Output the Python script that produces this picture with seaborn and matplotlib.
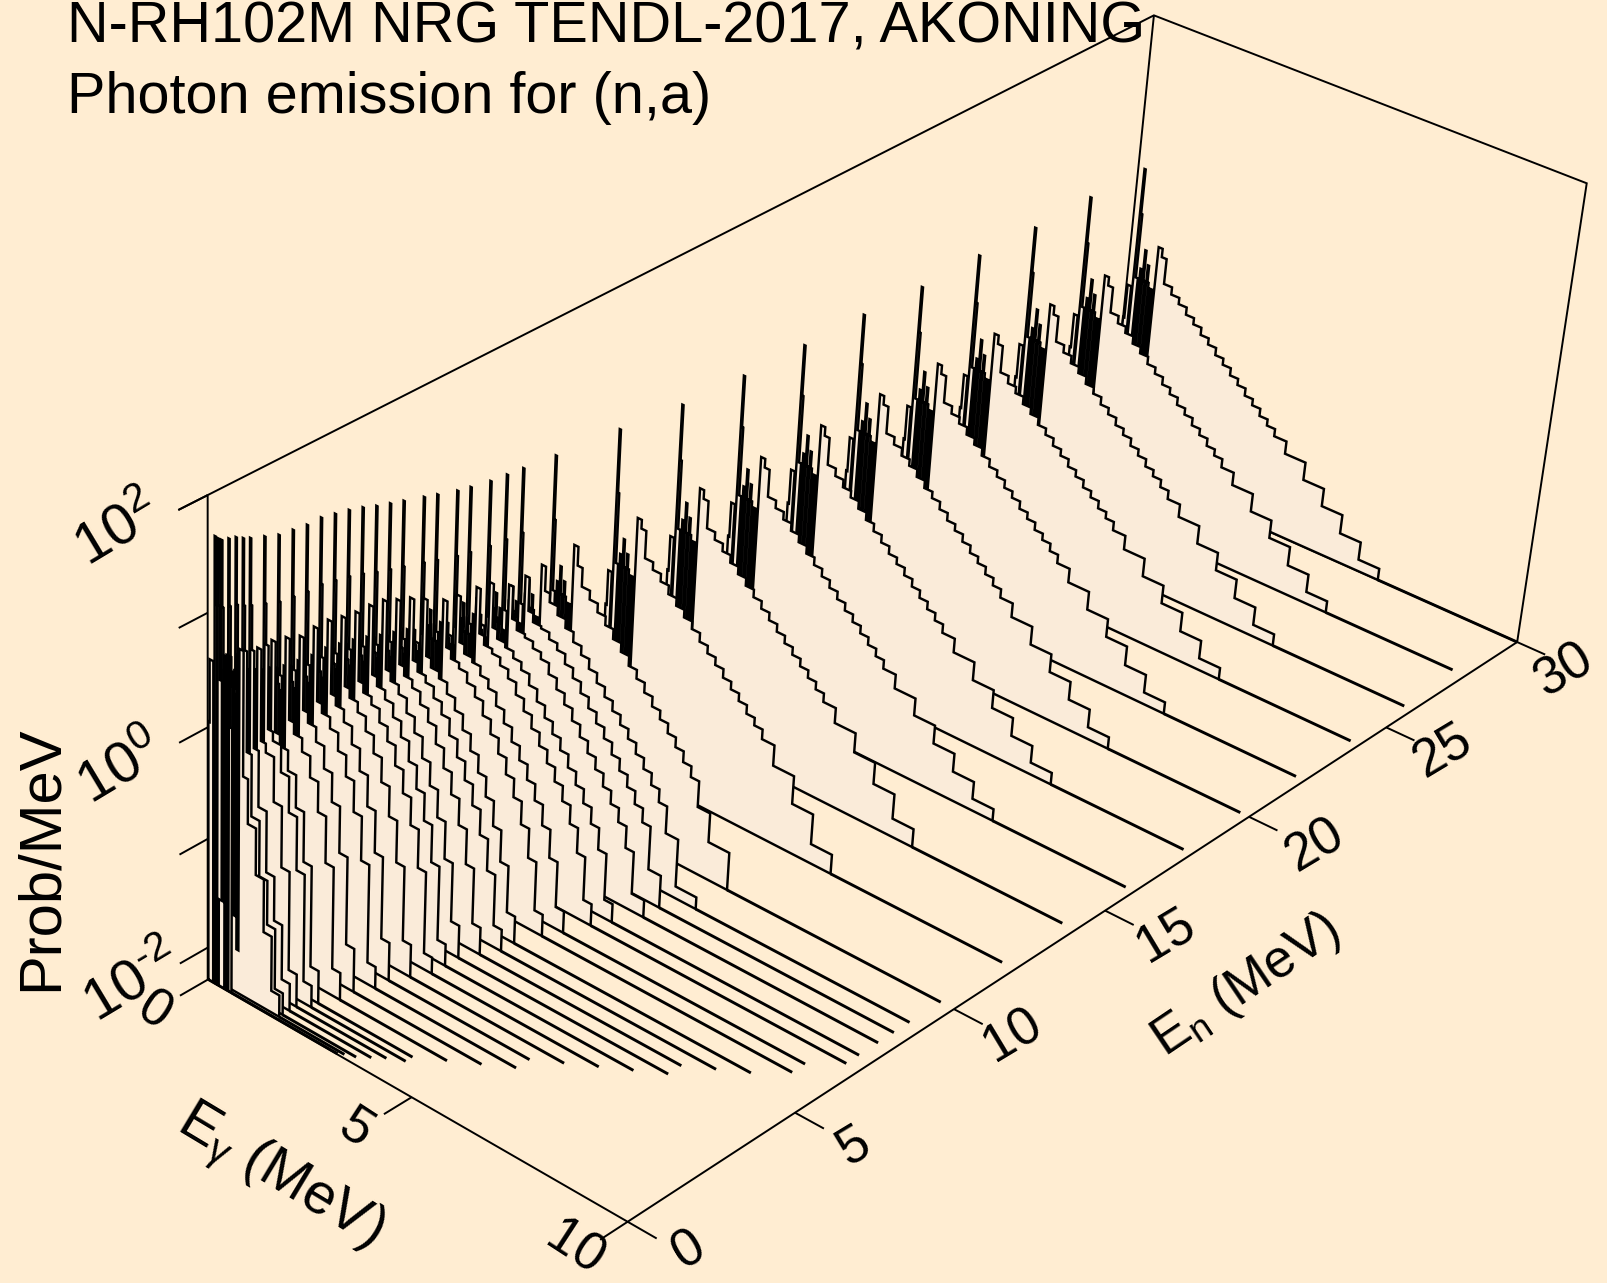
import numpy as np
import matplotlib
matplotlib.use('Agg')
import matplotlib.pyplot as plt
import seaborn as sns

# photon bin edges (MeV), shared by all spectra
eg_edges = [0, .03, .12, .15, .18, .21, .26, .30, .33, .37, .40, .43, .47, .50, .53, .58, .63, .68, .78, .9,
            1.1, 1.3, 1.5, 1.7, 1.9, 2.1, 2.3, 2.5, 2.7, 2.9, 3.1, 3.3, 3.5, 3.7, 3.9, 4.2, 4.7, 5.2, 5.7, 6.2, 6.7]

# incident energies and where each baseline stops
en_values = [.02, .1, .2, .4, .6, .8, 1, 1.4, 1.8, 2.2, 2.6, 3, 3.4, 3.8, 4.2, 4.6, 5, 5.4, 6, 6.4, 7, 7.4, 8, 8.5, 9, 10,
             12, 14, 16, 18, 20, 22, 24, 26, 28, 30]
eg_end = [3.2, 3.3, 3.5, 3.7, 3.9, 4.2, 4.2, 4.7, 5.2, 5.7, 5.7, 6.2, 6.7, 7.2, 7.7, 7.7, 8.2, 8.7, 9.2, 9.2, 9.7, 9.7, 9.7, 9.7, 9.7, 9.7,
          9.7, 9.7, 9.8, 9.8, 9.8, 9.8, 9.8, 9.8, 9.7, 10]

# log10(prob/MeV) per bin, one list per incident energy
lp_00 = [.05, .6, -2.3, 1.68, 1.1, -2.3, -1.5, -1.5, -1.5, .7, -2.3, .7, -2.3, .5, .1]
lp_01 = [.02, .34, -1.6, 1.65, 1.08, .44, -1.7, .54, -1.7, .69, .44, -1.8, .57, .44, -1.6, .39, -1.9, .8, -.3, -.7, -1.12, -1.6, -2.1]
lp_02 = [-.01, .31, -1.6, 1.62, 1.05, .41, -1.7, .51, -1.7, .66, .41, -1.8, .54, .41, -1.6, .36, -1.9, .78, -.1, -.65, -1.15, -1.55, -2.1]
lp_04 = [-.03, .29, -1.6, 1.6, 1.03, .39, -1.7, .49, -1.7, .64, .39, -1.8, .52, .39, -1.6, .34, -1.9, .75, -.1, -.6, -1.15, -1.55, -2.05]
lp_06 = [-.05, .27, -1.6, 1.58, 1.01, .37, -1.7, .47, -1.7, .62, .37, -1.8, .5, .37, -1.6, .32, -1.9, .73, -.07, -.15, -.55, -1.1, -2.0]
lp_08 = [-.09, .23, -1.6, 1.54, .97, .33, -1.7, .43, -1.7, .58, .33, -1.8, .46, .33, -1.6, .28, -1.9, .73, 0, -.08, -.32, -.64, -1.12, -2.1]
lp_10 = [-.12, .2, -1.6, 1.51, .94, .3, -1.7, .4, -1.7, .55, .3, -1.8, .43, .3, -1.6, .25, -1.9, .73, -.06, -.16, -.34, -.63, -1.08, -2.0]
lp_14 = [-.17, .15, -1.6, 1.46, .89, .25, -1.7, .35, -1.7, .5, .25, -1.8, .38, .25, -1.6, .2, -1.9, .69, -.02, -.12, -.24, -.43, -.7, -1.12, -2.05]
lp_18 = [-.22, .1, -1.6, 1.41, .84, .2, -1.7, .3, -1.7, .45, .2, -1.8, .33, .2, -1.6, .15, -1.9, .635, 0, -.09, -.22, -.42, -.68, -1.1, -1.9]
lp_22 = [-.24, .08, -1.6, 1.39, .82, .18, -1.7, .28, -1.7, .43, .18, -1.8, .31, .18, -1.6, .13, -1.9, .65, .01, -.07, -.17, -.33, -.52, -.8, -1.2, -2.1]
lp_26 = [-.26, .06, -1.6, 1.37, .8, .16, -1.7, .26, -1.7, .41, .16, -1.8, .29, .16, -1.6, .11, -1.9, .645, .01, -.07, -.18, -.34, -.54, -.82, -1.2, -1.95]
lp_30 = [-.26, .06, -1.6, 1.37, .8, .16, -1.7, .26, -1.7, .41, .16, -1.8, .29, .16, -1.6, .11, -1.9, .61, .01, -.07, -.16, -.29, -.45, -.67, -.94, -1.32, -2.0]
lp_34 = [-.29, .03, -1.6, 1.34, .77, .13, -1.7, .23, -1.7, .38, .13, -1.8, .26, .13, -1.6, .08, -1.9, .585, -.01, -.09, -.16, -.28, -.41, -.59, -.8, -1.05, -1.4, -2.15]
lp_38 = [-.32, 0, -1.6, 1.31, .74, .1, -1.7, .2, -1.7, .35, .1, -1.8, .23, .1, -1.6, .05, -1.9, .58, -.02, -.1, -.18, -.3, -.44, -.62, -.83, -1.08, -1.42, -2.1]
lp_42 = [-.36, -.04, -1.6, 1.27, .7, .06, -1.7, .16, -1.7, .31, .06, -1.8, .19, .06, -1.6, .01, -1.9, .56, -.04, -.12, -.2, -.33, -.47, -.66, -.87, -1.12, -1.46, -2.0]
lp_46 = [-.41, -.09, -1.6, 1.22, .65, .01, -1.7, .11, -1.7, .26, .01, -1.8, .14, .01, -1.6, -.04, -1.9, .5, -.06, -.14, -.21, -.32, -.44, -.6, -.78, -.98, -1.22, -1.54, -2.05]
lp_50 = [-.45, -.13, -1.6, 1.18, .61, -.03, -1.7, .07, -1.7, .22, -.03, -1.8, .1, -.03, -1.6, -.08, -1.9, .45, -.09, -.17, -.23, -.33, -.44, -.59, -.75, -.92, -1.11, -1.34, -1.63, -2.1]
lp_54 = [-.49, -.17, -1.6, 1.14, .57, -.07, -1.7, .03, -1.7, .18, -.07, -1.8, .06, -.07, -1.6, -.12, -1.9, .38, -.12, -.2, -.26, -.36, -.47, -.61, -.76, -.92, -1.1, -1.33, -1.62, -2.05]
lp_60 = [-.55, -.23, -1.6, 1.08, .51, -.13, -1.7, -.03, -1.7, .12, -.13, -1.8, 0, -.13, -1.6, -.18, -1.9, .27, -.14, -.22, -.27, -.36, -.45, -.58, -.71, -.85, -1.0, -1.17, -1.38, -1.65, -2.1]
lp_64 = [-.59, -.27, -1.6, 1.04, .47, -.17, -1.7, -.07, -1.7, .08, -.17, -1.8, -.04, -.17, -1.6, -.22, -1.9, .25, -.16, -.24, -.28, -.36, -.44, -.56, -.68, -.81, -.94, -1.08, -1.23, -1.42, -1.68, -2.1]
lp_70 = [-.65, -.33, -1.6, .98, .41, -.23, -1.7, -.13, -1.7, .02, -.23, -1.8, -.1, -.23, -1.6, -.28, -1.9, .22, -.18, -.26, -.3, -.37, -.45, -.56, -.67, -.79, -.91, -1.03, -1.16, -1.3, -1.47, -1.7, -2.1]
lp_74 = [-.68, -.36, -1.6, .95, .38, -.26, -1.7, -.16, -1.7, -.01, -.26, -1.8, -.13, -.26, -1.6, -.31, -1.9, .2, -.19, -.27, -.31, -.37, -.44, -.54, -.65, -.76, -.87, -.98, -1.1, -1.22, -1.35, -1.5, -1.7, -2.13]
lp_80 = [-.72, -.4, -1.6, .91, .34, -.3, -1.7, -.2, -1.7, -.05, -.3, -1.8, -.17, -.3, -1.6, -.35, -1.9, .08, -.21, -.29, -.32, -.38, -.44, -.54, -.64, -.74, -.85, -.96, -1.07, -1.18, -1.3, -1.42, -1.55, -1.75, -2.14]
lp_85 = [-.74, -.42, -1.6, .89, .32, -.32, -1.7, -.22, -1.7, -.07, -.32, -1.8, -.19, -.32, -1.6, -.37, -1.9, .08, -.22, -.3, -.32, -.38, -.44, -.53, -.62, -.72, -.82, -.92, -1.02, -1.13, -1.24, -1.35, -1.47, -1.6, -2.0]
lp_90 = [-.76, -.44, -1.6, .87, .3, -.34, -1.7, -.24, -1.7, -.09, -.34, -1.8, -.21, -.34, -1.6, -.39, -1.9, .1, -.12, -.2, -.28, -.36, -.45, -.53, -.62, -.71, -.8, -.89, -.98, -1.07, -1.17, -1.27, -1.38, -1.5, -1.75, -2.19]
lp_100 = [-.8, -.48, -1.6, .83, .26, -.38, -1.7, -.28, -1.7, -.13, -.38, -1.8, -.25, -.38, -1.6, -.43, -1.9, .12, -.05, -.22, -.3, -.38, -.46, -.55, -.63, -.72, -.8, -.89, -.98, -1.06, -1.15, -1.24, -1.34, -1.44, -1.68, -1.95]
lp_120 = [-.87, -.55, -1.6, .76, .19, -.45, -1.7, -.35, -1.7, -.2, -.45, -1.8, -.32, -.45, -1.6, -.5, -1.9, .05, -.03, -.28, -.35, -.42, -.5, -.57, -.64, -.71, -.79, -.86, -.93, -1.01, -1.08, -1.15, -1.23, -1.3, -1.39, -1.58, -1.84, -2.12]
lp_140 = [-.87, -.55, -1.6, .68, .18, -.45, -1.7, -.35, -1.7, -.18, -.45, -1.8, -.3, -.45, -1.6, -.5, -1.9, .01, -.07, -.32, -.39, -.46, -.53, -.6, -.67, -.74, -.81, -.88, -.95, -1.02, -1.09, -1.16, -1.23, -1.3, -1.38, -1.52, -1.7, -1.9, -2.13]
lp_160 = [-.87, -.55, -1.6, .645, .18, -.45, -1.7, -.35, -1.7, -.18, -.45, -1.8, -.3, -.45, -1.6, -.5, -1.9, -.01, -.09, -.34, -.41, -.48, -.55, -.62, -.69, -.76, -.83, -.9, -.97, -1.04, -1.11, -1.18, -1.25, -1.32, -1.4, -1.53, -1.69, -1.86, -2.03, -2.19]
lp_180 = [-.87, -.55, -1.6, .63, .17, -.45, -1.7, -.35, -1.7, -.17, -.45, -1.8, -.3, -.45, -1.6, -.5, -1.9, -.02, -.1, -.35, -.42, -.49, -.55, -.62, -.69, -.76, -.83, -.9, -.96, -1.03, -1.1, -1.17, -1.24, -1.31, -1.39, -1.52, -1.69, -1.86, -2.03, -2.19]
lp_200 = [-.87, -.55, -1.6, .62, .17, -.45, -1.7, -.35, -1.7, -.17, -.45, -1.8, -.3, -.45, -1.6, -.5, -1.9, -.03, -.11, -.36, -.43, -.5, -.56, -.63, -.7, -.76, -.83, -.9, -.96, -1.03, -1.1, -1.16, -1.23, -1.3, -1.38, -1.51, -1.68, -1.85, -2.02, -2.19]
lp_220 = [-.87, -.55, -1.6, .59, .17, -.45, -1.7, -.35, -1.7, -.17, -.45, -1.8, -.3, -.45, -1.6, -.5, -1.9, -.04, -.12, -.37, -.44, -.5, -.57, -.63, -.7, -.77, -.83, -.9, -.96, -1.03, -1.09, -1.16, -1.22, -1.29, -1.37, -1.5, -1.67, -1.84, -2.02, -2.19]
lp_240 = [-.87, -.55, -1.6, .6, .16, -.45, -1.7, -.35, -1.7, -.16, -.45, -1.8, -.29, -.45, -1.6, -.5, -1.9, -.05, -.13, -.38, -.45, -.51, -.58, -.64, -.71, -.77, -.84, -.9, -.97, -1.03, -1.1, -1.16, -1.23, -1.29, -1.37, -1.5, -1.67, -1.84, -2.02, -2.19]
lp_260 = [-.87, -.55, -1.6, .58, .16, -.45, -1.7, -.35, -1.7, -.16, -.45, -1.8, -.29, -.45, -1.6, -.5, -1.9, -.06, -.14, -.38, -.45, -.52, -.58, -.65, -.71, -.78, -.84, -.91, -.97, -1.04, -1.1, -1.17, -1.23, -1.3, -1.38, -1.5, -1.67, -1.84, -2.02, -2.19]
lp_280 = [-.87, -.55, -1.6, .59, .16, -.45, -1.7, -.35, -1.7, -.16, -.45, -1.8, -.29, -.45, -1.6, -.5, -1.9, -.07, -.15, -.39, -.46, -.52, -.59, -.65, -.72, -.78, -.85, -.91, -.98, -1.04, -1.11, -1.17, -1.24, -1.3, -1.38, -1.5, -1.67, -1.84, -2.02, -2.19]
lp_300 = [-.87, -.55, -1.6, .585, .16, -.45, -1.7, -.35, -1.7, -.16, -.45, -1.8, -.29, -.45, -1.6, -.5, -1.9, -.08, -.16, -.4, -.47, -.53, -.6, -.66, -.73, -.79, -.86, -.92, -.99, -1.05, -1.12, -1.18, -1.25, -1.31, -1.38, -1.5, -1.67, -1.84, -2.02, -2.19]

spectra = [lp_00, lp_01, lp_02, lp_04, lp_06, lp_08, lp_10, lp_14, lp_18, lp_22, lp_26, lp_30, lp_34, lp_38, lp_42, lp_46, lp_50,
           lp_54, lp_60, lp_64, lp_70, lp_74, lp_80, lp_85, lp_90, lp_100, lp_120, lp_140, lp_160, lp_180, lp_200, lp_220, lp_240,
           lp_260, lp_280, lp_300]

en_ticks = [0, 5, 10, 15, 20, 25, 30]
eg_ticks = [0, 5, 10]
z_ticks = [-2, -1, 0, 1, 2]

BG = '#FFEDD2'
FILL = '#FAEBD9'
Z_MIN, Z_MAX = -2.3, 2

# perspective of the box, fitted to its corners in the picture
CAM = np.array([[1066.872, 384.7439, -11.5007, 207.701],
                [-450.9758, 173.535, -511.8961, 979.6704],
                [0.1498, -0.0561, -0.0552, 1.0]])


def project(en, eg, z):
    en, eg, z = np.broadcast_arrays(np.asarray(en, float), np.asarray(eg, float), np.asarray(z, float))
    h = CAM @ np.vstack([en / 30, eg / 10, (z - Z_MIN) / (Z_MAX - Z_MIN), np.ones(en.shape)])
    return h[0] / h[2], h[1] / h[2]


def line3d(ax, en, eg, z, lw=1.4, order=1):
    x, y = project(en, eg, z)
    sns.lineplot(x=x, y=y, sort=False, estimator=None, color='black', lw=lw, ax=ax, zorder=order,
                 solid_joinstyle='miter', solid_capstyle='butt')


sns.set_theme(style='white', rc={'figure.facecolor': BG, 'axes.facecolor': BG, 'text.color': 'black',
                                 'mathtext.fontset': 'custom', 'mathtext.rm': 'Liberation Sans',
                                 'mathtext.it': 'Liberation Sans:italic', 'mathtext.default': 'regular'})
plt.rcParams['font.family'] = ['Liberation Sans', 'DejaVu Sans']

fig = plt.figure(figsize=(16.07, 12.83), dpi=100)
ax = fig.add_axes([0, 0, 1, 1])

# box, the back edges get covered by the spectra
line3d(ax, [0, 0, 30, 30, 30, 30, 0, 0], [0, 0, 0, 10, 10, 10, 10, 0], [Z_MIN, Z_MAX, Z_MAX, Z_MAX, Z_MIN, Z_MIN, Z_MIN, Z_MIN])
line3d(ax, [30, 30, 30], [0, 0, 10], [Z_MAX, Z_MIN, Z_MIN])
line3d(ax, [0, 30], [0, 0], [Z_MIN, Z_MIN])

for t in en_ticks:
    line3d(ax, [t, t], [10, 10.65], [Z_MIN, Z_MIN])
for t in eg_ticks:
    line3d(ax, [0, -.8], [t, t], [Z_MIN, Z_MIN])
for t in z_ticks + [Z_MAX]:
    line3d(ax, [0, -.8], [0, 0], [t, t])

# back to front so every fill hides what lies behind it
order = 2
for en, vals, stop in reversed(list(zip(en_values, spectra, eg_end))):
    left = np.array(eg_edges[:len(vals)])
    right = np.array(eg_edges[1:len(vals) + 1])
    eg = np.r_[0, np.column_stack([left, right]).ravel(), right[-1], 0]
    z = np.r_[Z_MIN, np.repeat(vals, 2), Z_MIN, Z_MIN]
    x, y = project(en, eg, z)
    ax.fill(x, y, facecolor=FILL, edgecolor='none', zorder=order)
    line3d(ax, en, eg, z, lw=1.75, order=order + .1)
    line3d(ax, [en, en], [right[-1], stop], [Z_MIN, Z_MIN], lw=2.1, order=order + .1)
    order += 1

ax.set_xlim(0, 1607)
ax.set_ylim(1283, 0)
ax.axis('off')

top = order + 1
ax.text(67, 43, 'N-RH102M NRG TENDL-2017, AKONING', fontsize=41.5, zorder=top)
ax.text(67, 113, 'Photon emission for (n,a)', fontsize=41.5, zorder=top)

en_label_pos = [(689, 1250), (854, 1146), (1013, 1035), (1166, 935), (1315, 846), (1443, 751), (1564, 670)]
for t, (x, y) in zip(en_ticks, en_label_pos):
    ax.text(x, y, str(t), fontsize=38, rotation=31, ha='center', va='center', zorder=top)
eg_label_pos = [(154, 1012), (356, 1129), (574, 1249)]
for t, (x, y) in zip(eg_ticks, eg_label_pos):
    ax.text(x, y, str(t), fontsize=38, rotation=-33, ha='center', va='center', zorder=top)

ax.text(118, 531, '10$^{2}$', fontsize=42, rotation=31, ha='center', va='center', zorder=top)
ax.text(121, 769, '10$^{0}$', fontsize=42, rotation=31, ha='center', va='center', zorder=top)
ax.text(133, 984, '10$^{\\text{-}2}$', fontsize=42, rotation=31, ha='center', va='center', zorder=top)

ax.text(41, 858, 'Prob/MeV', fontsize=43, rotation=90, ha='center', va='center', zorder=top)
ax.text(1246, 986, 'E$_{n}$ (MeV)', fontsize=38, rotation=34, ha='center', va='center', zorder=top)
ax.text(279, 1177, 'E$_{\\gamma}$ (MeV)', fontsize=41, rotation=-31, ha='center', va='center', zorder=top)

fig.savefig('out.png', dpi=100, facecolor=BG)
